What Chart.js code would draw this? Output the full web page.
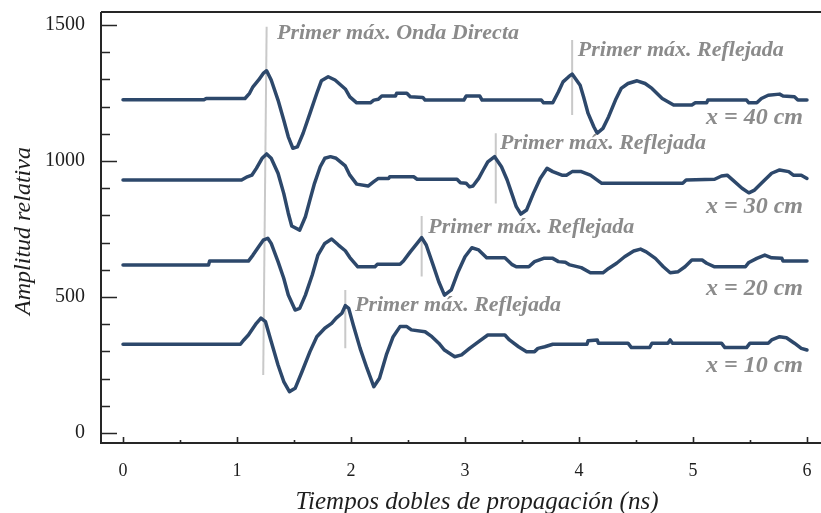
<!DOCTYPE html>
<html>
<head>
<meta charset="utf-8">
<title>Tiempos dobles de propagación</title>
<script src="https://cdn.jsdelivr.net/npm/chart.js@4.4.1/dist/chart.umd.min.js"></script>
<style>
  html, body { margin: 0; padding: 0; background: #ffffff; }
  #wrap { width: 821px; height: 513px; }
  canvas { display: block; }
</style>
</head>
<body>
<div id="wrap"><canvas id="chart" width="821" height="513"></canvas></div>
<script>
// ---- Radargram traces: time (ns) and relative amplitude for each offset ----
const seriesNames = ['x = 40 cm', 'x = 30 cm', 'x = 20 cm', 'x = 10 cm'];

const t40 = [0, 0.71, 0.73, 1.07, 1.11, 1.14, 1.19, 1.23, 1.26, 1.30, 1.36, 1.41, 1.45, 1.49, 1.53, 1.58, 1.64, 1.70, 1.74, 1.80, 1.86, 1.95, 1.99, 2.05, 2.17, 2.20, 2.24, 2.27, 2.39, 2.40, 2.49, 2.52, 2.63, 2.65, 2.99, 3.01, 3.13, 3.15, 3.67, 3.69, 3.77, 3.82, 3.86, 3.91, 3.94, 4.01, 4.04, 4.08, 4.13, 4.16, 4.21, 4.26, 4.32, 4.37, 4.43, 4.51, 4.58, 4.64, 4.73, 4.83, 4.99, 5.02, 5.12, 5.13, 5.47, 5.49, 5.56, 5.60, 5.66, 5.76, 5.79, 5.89, 5.92, 6.00];
const a40 = [1225, 1225, 1230, 1230, 1249, 1273, 1298, 1322, 1332, 1298, 1224, 1151, 1089, 1047, 1052, 1102, 1175, 1249, 1295, 1310, 1298, 1265, 1236, 1214, 1214, 1224, 1227, 1239, 1239, 1249, 1249, 1236, 1234, 1224, 1224, 1239, 1239, 1224, 1224, 1214, 1214, 1255, 1291, 1310, 1320, 1279, 1236, 1175, 1126, 1102, 1120, 1163, 1224, 1267, 1285, 1295, 1285, 1267, 1230, 1206, 1206, 1214, 1214, 1224, 1224, 1214, 1214, 1230, 1242, 1246, 1239, 1236, 1224, 1224];

const t30 = [0, 1.04, 1.09, 1.13, 1.17, 1.22, 1.26, 1.30, 1.36, 1.41, 1.45, 1.48, 1.55, 1.60, 1.64, 1.68, 1.73, 1.77, 1.82, 1.87, 1.95, 1.99, 2.05, 2.15, 2.20, 2.24, 2.33, 2.34, 2.55, 2.58, 2.93, 2.96, 3.01, 3.04, 3.07, 3.12, 3.16, 3.20, 3.26, 3.32, 3.37, 3.41, 3.45, 3.49, 3.54, 3.60, 3.66, 3.72, 3.77, 3.85, 3.89, 3.94, 4.02, 4.10, 4.20, 4.91, 4.94, 5.19, 5.25, 5.30, 5.35, 5.43, 5.49, 5.54, 5.60, 5.69, 5.76, 5.84, 5.88, 5.95, 6.00];
const a30 = [930, 930, 942, 948, 973, 1010, 1026, 1010, 955, 881, 808, 761, 746, 795, 857, 918, 979, 1010, 1016, 1010, 982, 948, 915, 908, 924, 936, 936, 942, 942, 933, 933, 920, 918, 905, 908, 936, 967, 997, 1016, 979, 930, 881, 832, 805, 820, 881, 936, 973, 961, 948, 948, 961, 961, 948, 918, 918, 930, 933, 945, 948, 930, 900, 883, 893, 918, 955, 967, 961, 948, 948, 936];

const t20 = [0, 0.75, 0.76, 1.10, 1.14, 1.19, 1.23, 1.27, 1.30, 1.36, 1.41, 1.45, 1.51, 1.55, 1.60, 1.66, 1.71, 1.77, 1.83, 1.89, 1.95, 1.99, 2.06, 2.21, 2.23, 2.43, 2.46, 2.52, 2.58, 2.62, 2.66, 2.72, 2.77, 2.82, 2.88, 2.94, 3.00, 3.06, 3.12, 3.19, 3.35, 3.41, 3.45, 3.56, 3.61, 3.69, 3.77, 3.82, 3.88, 3.92, 4.02, 4.10, 4.21, 4.26, 4.33, 4.40, 4.48, 4.54, 4.59, 4.67, 4.74, 4.80, 4.87, 4.93, 4.99, 5.08, 5.12, 5.19, 5.46, 5.49, 5.56, 5.63, 5.69, 5.78, 5.79, 6.00];
const a20 = [618, 618, 632, 632, 654, 685, 709, 716, 697, 630, 569, 507, 452, 458, 507, 581, 654, 697, 713, 691, 670, 645, 611, 611, 620, 620, 632, 666, 697, 718, 691, 618, 556, 507, 526, 593, 648, 681, 673, 644, 644, 620, 611, 611, 630, 642, 642, 630, 628, 618, 608, 589, 589, 605, 624, 648, 669, 676, 666, 642, 611, 589, 593, 611, 636, 636, 624, 611, 611, 627, 642, 654, 644, 642, 632, 632];

const t10 = [0, 1.03, 1.06, 1.10, 1.14, 1.17, 1.21, 1.25, 1.30, 1.36, 1.41, 1.46, 1.51, 1.57, 1.64, 1.70, 1.77, 1.83, 1.87, 1.92, 1.95, 1.98, 2.02, 2.08, 2.14, 2.20, 2.25, 2.31, 2.37, 2.43, 2.49, 2.53, 2.65, 2.71, 2.77, 2.82, 2.91, 2.97, 3.04, 3.12, 3.20, 3.35, 3.39, 3.47, 3.54, 3.61, 3.64, 3.70, 3.77, 4.07, 4.08, 4.16, 4.17, 4.43, 4.46, 4.62, 4.64, 4.78, 4.80, 4.82, 5.25, 5.28, 5.47, 5.50, 5.66, 5.69, 5.76, 5.82, 5.89, 5.95, 6.00];
const a10 = [326, 326, 342, 360, 385, 403, 422, 409, 336, 250, 189, 152, 164, 225, 299, 354, 385, 403, 422, 440, 468, 458, 397, 311, 238, 170, 201, 287, 354, 391, 391, 379, 372, 354, 330, 305, 280, 287, 311, 336, 360, 360, 342, 317, 299, 299, 311, 317, 326, 326, 339, 342, 330, 330, 314, 314, 330, 330, 342, 330, 330, 314, 314, 330, 330, 342, 354, 350, 330, 311, 305];

// ---- First-maximum markers (vertical guides) ----
const peakLabels   = ['Primer máx. Onda Directa', 'Primer máx. Reflejada', 'Primer máx. Reflejada', 'Primer máx. Reflejada', 'Primer máx. Reflejada'];
const peakTimeTop  = [1.26, 3.94, 3.27, 2.62, 1.95];
const peakTimeBot  = [1.23, 3.94, 3.27, 2.62, 1.95];
const peakAmpTop   = [1494, 1445, 1102, 798, 526];
const peakAmpBot   = [213, 1169, 844, 575, 311];
const peakTextTime = [1.351, 3.99, 3.307, 2.678, 2.035];
const peakTextAmp  = [1447, 1386, 1044, 734, 450];

// Offset labels at the right end of each trace
const nameTime = 5.965;
const nameAmp  = [1136, 808, 507, 225];

// ---- Axis ticks ----
const xTickValues = [0, 0.5, 1, 1.5, 2, 2.5, 3, 3.5, 4, 4.5, 5, 5.5, 6];
const yTickValues = [0, 100, 200, 300, 400, 500, 600, 700, 800, 900, 1000, 1100, 1200, 1300, 1400, 1500];

const TRACE_COLOR = '#2d486b';
const GUIDE_COLOR = '#c9c9c9';
const NOTE_COLOR  = '#8b8b8b';
const AXIS_COLOR  = '#262626';
const SERIF = '"Liberation Serif", "Times New Roman", serif';

const pairs = (t, a) => t.map((v, i) => ({ x: v, y: a[i] }));

const traces = [[t40, a40], [t30, a30], [t20, a20], [t10, a10]].map(([t, a], i) => ({
  label: seriesNames[i],
  data: pairs(t, a),
  showLine: true,
  borderColor: TRACE_COLOR,
  borderWidth: 3.5,
  borderJoinStyle: 'round',
  borderCapStyle: 'round',
  pointRadius: 0,
  tension: 0,
  order: 0
}));

const guides = peakLabels.map((lbl, i) => ({
  label: lbl,
  data: [{ x: peakTimeTop[i], y: peakAmpTop[i] }, { x: peakTimeBot[i], y: peakAmpBot[i] }],
  showLine: true,
  borderColor: GUIDE_COLOR,
  borderWidth: 2,
  pointRadius: 0,
  tension: 0,
  order: 10
}));

// Frame, inward tick marks, annotation text and axis titles
const decorations = {
  id: 'decorations',
  afterDatasetsDraw(chart) {
    const { ctx, chartArea: a, scales: { x, y } } = chart;
    ctx.save();

    // annotation texts
    ctx.fillStyle = NOTE_COLOR;
    ctx.textBaseline = 'alphabetic';
    ctx.textAlign = 'left';
    ctx.font = 'bold italic 22px ' + SERIF;
    peakLabels.forEach((lbl, i) => {
      ctx.fillText(lbl, x.getPixelForValue(peakTextTime[i]), y.getPixelForValue(peakTextAmp[i]));
    });
    ctx.textAlign = 'right';
    ctx.font = 'bold italic 24px ' + SERIF;
    seriesNames.forEach((lbl, i) => {
      ctx.fillText(lbl, x.getPixelForValue(nameTime), y.getPixelForValue(nameAmp[i]));
    });

    // frame lines
    ctx.strokeStyle = AXIS_COLOR;
    ctx.lineWidth = 2;
    ctx.beginPath();
    ctx.moveTo(a.left, a.top); ctx.lineTo(a.right, a.top);
    ctx.moveTo(a.left, a.top); ctx.lineTo(a.left, a.bottom); ctx.lineTo(a.right, a.bottom);
    ctx.stroke();

    // inward tick marks
    ctx.lineWidth = 1.6;
    ctx.beginPath();
    yTickValues.forEach(v => {
      const py = Math.round(y.getPixelForValue(v)) + 0.5;
      const len = v % 500 === 0 ? 16 : 9;
      ctx.moveTo(a.left, py); ctx.lineTo(a.left + len, py);
    });
    xTickValues.forEach(v => {
      const px = Math.round(x.getPixelForValue(v)) + 0.5;
      const len = Number.isInteger(v) ? 6 : 3;
      ctx.moveTo(px, a.bottom); ctx.lineTo(px, a.bottom - len);
    });
    ctx.stroke();

    // axis titles
    ctx.fillStyle = '#1e1e1e';
    ctx.font = 'italic 25px ' + SERIF;
    ctx.textAlign = 'center';
    ctx.textBaseline = 'alphabetic';
    ctx.fillText('Tiempos dobles de propagación (ns)', 477, 509);
    ctx.font = 'italic 24px ' + SERIF;
    ctx.translate(30, 231);
    ctx.rotate(-Math.PI / 2);
    ctx.fillText('Amplitud relativa', 0, 0);

    ctx.restore();
  }
};

new Chart(document.getElementById('chart'), {
  type: 'scatter',
  data: { datasets: [...traces, ...guides] },
  options: {
    responsive: false,
    animation: false,
    events: [],
    layout: { padding: { top: 12, right: 0, left: 0, bottom: 0 } },
    plugins: { legend: { display: false }, tooltip: { enabled: false } },
    scales: {
      x: {
        type: 'linear',
        min: -0.193,
        max: 6.123,
        afterBuildTicks: s => { s.ticks = xTickValues.map(v => ({ value: v })); },
        afterFit: s => { s.height = 70; s.paddingLeft = 0; s.paddingRight = 0; },
        grid: { display: false, drawTicks: false },
        border: { display: false },
        ticks: {
          autoSkip: false,
          maxRotation: 0,
          padding: 17,
          color: '#1e1e1e',
          font: { family: SERIF, size: 18 },
          callback: v => Number.isInteger(v) ? String(v) : ''
        }
      },
      y: {
        type: 'linear',
        min: -37,
        max: 1548,
        afterBuildTicks: s => { s.ticks = yTickValues.map(v => ({ value: v })); },
        afterFit: s => { s.width = 101; s.paddingTop = 0; s.paddingBottom = 0; },
        grid: { display: false, drawTicks: false },
        border: { display: false },
        ticks: {
          autoSkip: false,
          padding: 16,
          color: '#1e1e1e',
          font: { family: SERIF, size: 20 },
          callback: v => v % 500 === 0 ? String(v) : ''
        }
      }
    }
  },
  plugins: [decorations]
});
</script>
</body>
</html>
